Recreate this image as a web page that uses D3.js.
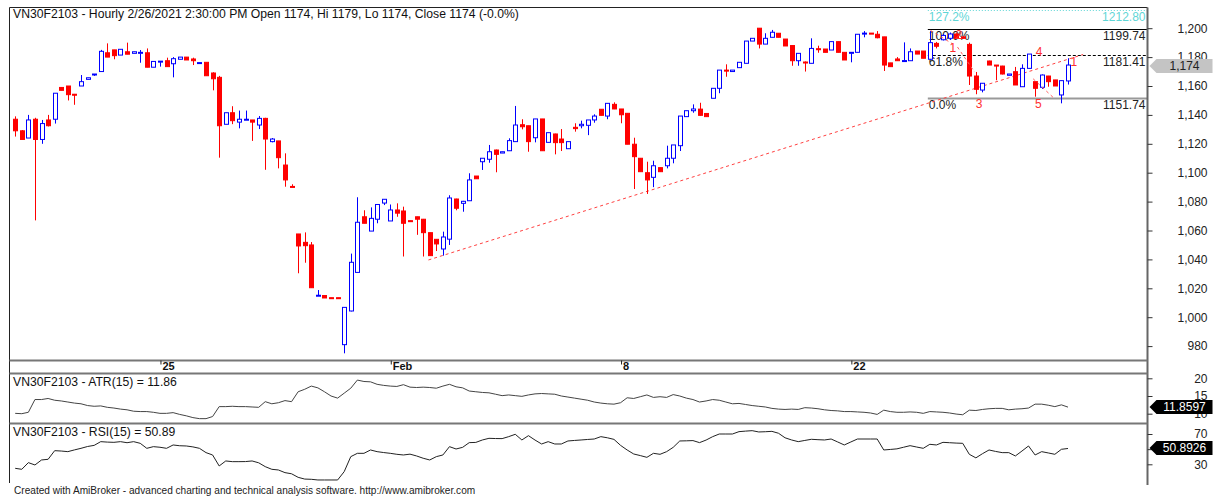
<!DOCTYPE html>
<html>
<head>
<meta charset="utf-8">
<script src="https://cdn.jsdelivr.net/npm/d3@7"></script>
<style>
  body { margin: 0; background: #fff; }
  svg { display: block; }
  text { font-family: "Liberation Sans", Arial, sans-serif; }
</style>
</head>
<body>
<div id="chart"></div>
<script>
// ---- data (hourly bars, 21 Jan .. 26 Feb 2021) ----
const dayTickBars = [22, 57, 92, 127];
const dayTickLabels = ["25", "Feb", "8", "22"];

const opens = [1137,1129,1124,1137,1123,1136.5,1137,1159,1160,1154.3,1160,1164.6,1168,1170,1183,1185,1181.4,1183.7,1182.6,1183,
  1183,1173,1177,1177.5,1175.4,1178.5,1180,1178.7,1176,1176.4,1169,1166,1133.5,1141.5,1135,1136.5,1136.5,1133,1137.6,1121.5,
  1122,1105.3,1090.5,1057.6,1051.8,1050,1014.9,1015,1013.5,1013.5,981,1004.3,1031,1069.5,1059.6,1067.8,1079,1066.6,1074.2,1073.5,
  1066.8,1069.5,1067.8,1058.5,1053.9,1047.2,1054,1081.8,1078.8,1080.6,1097.7,1107.6,1109.3,1115.7,1113.6,1115.2,1121.5,1133.2,1132.5,1124.2,
  1137.2,1121,1126.8,1123.3,1116.6,1131.4,1132.5,1132.8,1136.5,1143.9,1139.2,1147.3,1144.1,1141.1,1119.7,1110,1100,1096.8,1103.5,1104.8,
  1110,1118.7,1138.8,1142.9,1144,1141,1151.5,1158.4,1171,1170,1172.7,1175.7,1191.1,1200,1189,1193.7,1196.5,1192.5,1188,1177.5,
  1176.6,1175.7,1185.8,1185.6,1184.9,1190.7,1183.3,1183,1183.3,1196.3,1196.6,1195.8,1194,1176,1178.7,1177.4,1177.5,1184.2,1184.2,1178.5,
  1189.5,1192,1193,1196,1194,1188.8,1166.9,1157.2,1177.3,1174.5,1173.8,1167.4,1169.9,1159.5,1172.2,1163,1159.1,1166.9,1164.2,1153.8,
  1163.5];
const highs = [1139,1129.5,1140,1138,1136.5,1140,1155,1159,1160,1154.5,1167.6,1165.7,1168.3,1185,1189.5,1185,1185.4,1190,1183.7,1184.9,
  1186,1177,1177.2,1179.6,1180,1180,1180,1179.6,1176.2,1176.4,1169.5,1167,1141.5,1146,1143,1143,1136.5,1139.2,1138,1124,
  1122,1113.4,1092,1057.6,1058.7,1052,1018.8,1015,1013.5,1013.5,1006.8,1044,1083,1074,1076,1078,1081.6,1078,1078.8,1076.5,
  1066.8,1069.5,1068,1058.5,1054,1059.2,1084.4,1082,1080.5,1099.6,1097.7,1110,1119.2,1116,1114.5,1123.8,1146.2,1137,1132.5,1137.2,
  1137.2,1127.7,1127,1130.2,1121.5,1134.2,1136,1136.5,1140.4,1143.9,1148,1148.7,1144.1,1141.1,1124.2,1110,1107.6,1108.3,1103.5,1118.7,
  1119.2,1139.2,1142.9,1147.3,1148.4,1141,1158.4,1171,1175,1171,1176.4,1191.1,1193,1200,1196.5,1198.8,1196.5,1192.5,1188,1182.6,
  1177,1193,1187.9,1185.6,1190.7,1190.7,1183.3,1183.3,1195.8,1198,1196.6,1198,1194,1176,1180,1190.2,1186,1184.2,1184.2,1198,
  1190.5,1196,1197,1196.5,1194,1190,1169.7,1162,1177.5,1174.5,1174,1168.3,1173.2,1175,1182.1,1163,1168,1167,1164.2,1163.7,
  1179.2];
const lows = [1125,1123,1124,1067,1120,1132,1134,1157,1150,1147,1160,1164.6,1167,1170,1180,1178.5,1181.4,1182,1182.6,1176.1,
  1173,1173,1173.4,1173.4,1166,1178.5,1178,1174.5,1176,1167,1157,1110.4,1133.5,1133.6,1130.7,1136.5,1122,1130.2,1102,1121,
  1103,1090.3,1090,1030.4,1037.7,1020.4,1014.9,1013.3,1013.4,1013.4,975,1004,1031,1065,1059.6,1065,1077.6,1066.6,1069.5,1042,
  1066.5,1057,1042,1042.6,1045.8,1042.6,1050,1074,1073,1080.6,1095.8,1101.9,1106.9,1100.3,1113.6,1115,1121.5,1130,1114.5,1121,
  1115.2,1121,1112.7,1115,1116.6,1128.4,1130.7,1126,1134.6,1139.7,1137,1144,1134.2,1119.7,1088.7,1100.7,1085.3,1090,1100.7,1103,
  1106.5,1115,1138.8,1141.5,1139.5,1138.8,1151.5,1155,1166.4,1170,1172.7,1175.7,1191.1,1186,1189,1193.7,1193.7,1187.7,1174,1174,
  1170,1175.7,1183,1183.3,1184.9,1183.3,1178,1176.4,1183.3,1193.7,1196.3,1193,1170.4,1173.4,1177.5,1177.4,1177.5,1182.1,1179.2,1178.5,
  1186,1191.5,1192,1192.5,1193,1160.7,1154.3,1155.6,1174.5,1164,1168,1167.4,1160.7,1159.5,1172,1152.6,1158,1159.5,1160,1148,
  1161];
const closes = [1129,1123,1136.5,1123,1134,1132.5,1155,1157,1154,1154,1163,1165.7,1168.3,1184,1180,1181,1185.4,1182,1183.7,1183.3,
  1173,1177,1177.2,1173.4,1178.9,1180,1178,1177.5,1176.2,1167.1,1165,1132.5,1141.5,1136,1137,1137,1135,1137.6,1123.3,1123.3,
  1110.4,1095,1090,1049.3,1049.5,1020.4,1015.2,1013.3,1013.4,1013.4,1006.8,1038,1065.7,1065,1068.4,1078,1081.6,1074.2,1072,1065,
  1066.5,1067.8,1058.5,1042.6,1050.7,1055.5,1082.5,1075.4,1080.2,1095,1095.8,1110,1114.5,1112.7,1114.5,1122.2,1133,1131.8,1121.5,1137.2,
  1115.2,1127.7,1120.8,1120.8,1121.5,1130.5,1133.5,1136.5,1139.2,1139.7,1148,1144.1,1140.1,1119.7,1111.1,1100.7,1095,1104.8,1100.7,1110,
  1119.2,1139.2,1142.9,1144.1,1139.7,1138.8,1158.4,1171,1170.3,1171,1176.4,1191.1,1193,1189,1193,1197.2,1193.7,1187.7,1177.5,1182.6,
  1176.4,1186,1185.2,1183.3,1190.7,1183.3,1178,1183.3,1195.8,1196.6,1196.3,1193.4,1174.5,1173.4,1177.5,1177.6,1183.7,1182.1,1179.2,1190,
  1187.5,1195,1196,1193,1193,1166.9,1157.7,1161.9,1174.5,1173.8,1168.3,1168.3,1160.7,1172.2,1182.1,1158.4,1167.6,1163,1160,1163.7,
  1174.5];

const atrValues = [10.1,10.0,10.4,14.0,14.0,14.3,13.8,13.6,13.3,13.0,12.8,12.3,12.1,12.2,11.8,11.6,11.3,11.1,10.7,10.6,
  10.6,10.4,10.1,10.1,10.3,9.8,9.4,8.9,8.6,8.6,9.2,12.0,12.0,12.1,12.0,12.0,11.9,11.8,13.4,12.8,
  13.1,13.7,13.4,16.2,16.9,17.8,17.3,16.2,15.0,14.4,15.8,17.2,19.5,19.1,19.0,18.3,18.0,17.8,17.7,18.2,
  17.5,17.4,17.5,17.4,17.2,17.8,18.3,17.6,17.3,16.4,16.2,16.0,15.9,15.5,15.1,15.3,15.1,14.9,15.3,15.6,
  15.7,15.6,15.5,15.0,14.7,14.4,14.1,13.8,13.3,13.0,12.8,12.7,13.1,14.5,14.3,14.8,15.3,14.6,14.8,14.6,
  15.4,15.0,14.4,14.0,13.3,13.6,14.0,13.8,13.3,12.8,12.9,12.6,12.3,12.1,11.9,11.5,11.3,11.2,11.3,11.2,
  11.7,11.6,11.4,11.1,10.9,10.8,10.6,10.6,10.5,10.4,10.2,9.8,11.0,10.6,10.4,10.4,10.5,10.4,10.1,10.6,
  10.5,10.4,10.2,9.9,9.7,11.0,10.9,11.2,11.4,11.5,11.5,11.1,11.3,11.4,11.6,12.7,12.7,12.4,12.0,12.5,
  11.86];
const rsiValues = [24.7,23.4,32.2,29.1,35.7,36.6,48.0,47.5,46.7,49.0,51.1,53.5,55.0,59.9,59.3,59.0,59.9,58.5,59.9,57.7,
  51.1,53.3,52.5,51.1,55.5,54.5,54.2,53.0,51.1,45.4,42.3,27.8,34.4,33.5,33.5,33.6,34.4,32.0,26.9,23.4,
  22.5,19.0,17.5,12.8,10.5,10.2,9.3,9.3,9.3,9.3,20.3,40.1,44.5,44.5,48.9,46.7,45.5,44.5,43.2,42.3,
  43.4,41.0,38.0,35.7,40.1,42.3,53.3,50.2,52.4,58.6,58.9,62.1,64.3,64.0,63.9,66.5,69.6,62.1,67.8,62.0,
  56.8,59.9,56.8,56.8,60.8,61.5,62.1,62.8,63.4,66.5,65.0,62.9,55.0,48.9,43.6,41.5,39.2,44.5,43.2,46.7,
  52.4,60.8,61.0,61.3,58.6,62.0,66.5,70.0,70.0,70.0,73.1,73.8,74.4,72.7,73.0,73.5,71.0,65.0,62.1,59.9,
  61.5,63.0,62.5,62.1,63.4,59.5,55.5,59.5,63.4,63.4,63.4,63.4,48.9,49.6,50.4,52.5,54.6,52.8,51.1,56.4,
  55.5,59.0,58.5,58.0,57.7,43.2,38.5,44.0,48.9,47.0,45.4,45.4,41.0,47.5,54.2,42.3,46.7,45.0,43.2,49.8,
  50.89];

const priceTicks = [980, 1000, 1020, 1040, 1060, 1080, 1100, 1120, 1140, 1160, 1180, 1200];
const atrTicks = [10, 15, 20];
const rsiTicks = [30, 50, 70];
const rsiTickLabels = ["30", "", "70"];

const fibStartBar = 139;
const fibPercents = ["127.2%", "100.0%", "61.8%", "0.0%"];
const fibPrices = [1212.80, 1199.74, 1181.41, 1151.74];

const trendBars = [62.8, 162.3];
const trendPrices = [1039.6, 1181.8];

const waveText = ["1", "2", "3", "4", "5", "1"];
const waveBars = [142.5, 143.4, 146.5, 155.6, 155.5, 160.9];
const wavePrices = [1186.3, 1195.3, 1147.5, 1183.7, 1147.5, 1176.6];

const waveLegBars = [[139.1, 142.4], [143.2, 145.8], [154.7, 157.7]];
const waveLegPrices = [[1198.5, 1189.3], [1187.0, 1169.7], [1165.0, 1152.3]];

const titleText = "VN30F2103 - Hourly 2/26/2021 2:30:00 PM Open 1174, Hi 1179, Lo 1174, Close 1174 (-0.0%)";
const atrTitle = "VN30F2103 - ATR(15) = 11.86";
const rsiTitle = "VN30F2103 - RSI(15) = 50.89";
const lastClose = 1174;
const lastAtr = 11.8597;
const lastRsi = 50.8926;
const footerText = "Created with AmiBroker - advanced charting and technical analysis software. http://www.amibroker.com";

// ---- layout ----
const width = 1219, height = 498;
const left = 9.5, right = 1147.5;
const mainTop = 7.5, mainBottom = 360.5, dateBottom = 373.5, atrBottom = 423.5, rsiBottom = 483;

const svg = d3.select("#chart").append("svg")
  .attr("width", width)
  .attr("height", height);

const x = d3.scaleLinear().domain([0, 160]).range([15.2, 1068]);
const y = d3.scaleLinear().domain([980, 1200]).range([346.1, 28.2]);
const yAtr = d3.scaleLinear().domain([15, 20]).range([396, 378.3]);
const yRsi = d3.scaleLinear().domain([30, 70]).range([464.3, 434]);

svg.append("clipPath").attr("id", "mainClip")
  .append("rect").attr("x", left).attr("y", mainTop).attr("width", right - left).attr("height", mainBottom - mainTop);

const main = svg.append("g").attr("clip-path", "url(#mainClip)");

// fib levels
const fibColors = ["#5fd6d6", "#000", "#000", "#999"];
const fibDash = ["1,2", null, "3,2", null];
const fibWidth = [1, 1, 1, 2];
fibPrices.forEach(function (p, k) {
  let ly = Math.round(y(p)) + 0.5;
  main.append("line")
    .attr("x1", x(fibStartBar) - 2).attr("x2", right)
    .attr("y1", ly).attr("y2", ly)
    .attr("stroke", fibColors[k])
    .attr("stroke-width", fibWidth[k])
    .attr("stroke-dasharray", fibDash[k]);
  let col = k === 0 ? "#5fd6d6" : "#222";
  main.append("text")
    .attr("x", x(fibStartBar) - 1).attr("y", ly + 10)
    .attr("font-size", 12).attr("fill", col)
    .text(fibPercents[k]);
  main.append("text")
    .attr("x", right - 2).attr("y", ly + 10)
    .attr("text-anchor", "end")
    .attr("font-size", 12).attr("fill", col)
    .text(d3.format(".2f")(p));
});

// trend line
main.append("line")
  .attr("x1", x(trendBars[0])).attr("y1", y(trendPrices[0]))
  .attr("x2", x(trendBars[1])).attr("y2", y(trendPrices[1]))
  .attr("stroke", "#ff4040")
  .attr("stroke-dasharray", "3,3");

// candles
const bars = d3.range(opens.length);
const candle = main.selectAll("g.candle").data(bars).enter().append("g").attr("class", "candle");

candle.append("line")
  .attr("x1", function (i) { return Math.round(x(i)) + 0.5; })
  .attr("x2", function (i) { return Math.round(x(i)) + 0.5; })
  .attr("y1", function (i) { return y(highs[i]); })
  .attr("y2", function (i) { return y(lows[i]); })
  .attr("stroke", function (i) { return closes[i] >= opens[i] ? "#0000ff" : "#ff0000"; });

candle.append("rect")
  .attr("x", function (i) { return Math.round(x(i)) - 1.5; })
  .attr("width", 4)
  .attr("y", function (i) { return y(Math.max(opens[i], closes[i])); })
  .attr("height", function (i) { return Math.max(1, Math.abs(y(opens[i]) - y(closes[i]))); })
  .attr("fill", function (i) { return closes[i] >= opens[i] ? "#fff" : "#ff0000"; })
  .attr("stroke", function (i) { return closes[i] >= opens[i] ? "#0000ff" : "#ff0000"; })
  .attr("stroke-width", 1);

// elliott wave legs and labels
waveLegBars.forEach(function (b, k) {
  main.append("line")
    .attr("x1", x(b[0])).attr("y1", y(waveLegPrices[k][0]))
    .attr("x2", x(b[1])).attr("y2", y(waveLegPrices[k][1]))
    .attr("stroke", "#ff6060")
    .attr("stroke-dasharray", "3,3");
});
waveText.forEach(function (t, k) {
  main.append("text")
    .attr("x", x(waveBars[k])).attr("y", y(wavePrices[k]) + 4)
    .attr("text-anchor", "middle")
    .attr("font-size", 12).attr("fill", "#ff3030")
    .text(t);
});

// indicator lines
const atrLine = d3.line().x(function (d, i) { return x(i); }).y(function (d) { return yAtr(d); });
svg.append("path").datum(atrValues)
  .attr("fill", "none").attr("stroke", "#444").attr("stroke-width", 1)
  .attr("d", atrLine);

const rsiLine = d3.line().x(function (d, i) { return x(i); }).y(function (d) { return yRsi(d); });
svg.append("path").datum(rsiValues)
  .attr("fill", "none").attr("stroke", "#222").attr("stroke-width", 1)
  .attr("d", rsiLine);

// pane frames
svg.append("line").attr("x1", left).attr("x2", right).attr("y1", mainTop).attr("y2", mainTop).attr("stroke", "#222");
svg.append("line").attr("x1", left).attr("x2", left).attr("y1", mainTop).attr("y2", rsiBottom).attr("stroke", "#222");
svg.append("line").attr("x1", right).attr("x2", right).attr("y1", mainTop).attr("y2", rsiBottom + 2).attr("stroke", "#666").attr("stroke-width", 2);
[mainBottom, dateBottom, atrBottom].forEach(function (yy) {
  svg.append("line").attr("x1", left).attr("x2", right).attr("y1", yy).attr("y2", yy)
    .attr("stroke", "#777").attr("stroke-width", 2);
});

// right price axis
function styleAxis(g) {
  g.select(".domain").remove();
  g.selectAll(".tick line").attr("stroke", "#333");
  g.selectAll(".tick text")
    .attr("x", 60).attr("text-anchor", "end")
    .attr("fill", "#222")
    .attr("font-size", 12)
    .attr("font-family", "\"Liberation Sans\", Arial, sans-serif");
}

svg.append("g")
  .attr("transform", "translate(" + right + ",0)")
  .call(d3.axisRight(y).tickValues(priceTicks).tickSize(5).tickSizeOuter(0).tickFormat(d3.format(",")))
  .call(styleAxis);

svg.append("g")
  .attr("transform", "translate(" + right + ",0)")
  .call(d3.axisRight(yAtr).tickValues(atrTicks).tickSize(5).tickSizeOuter(0).tickFormat(d3.format("d")))
  .call(styleAxis);

svg.append("g")
  .attr("transform", "translate(" + right + ",0)")
  .call(d3.axisRight(yRsi).tickValues(rsiTicks).tickSize(5).tickSizeOuter(0)
    .tickFormat(function (d, i) { return rsiTickLabels[i]; }))
  .call(styleAxis);

// date axis
const dateAxis = svg.append("g")
  .attr("transform", "translate(0," + mainBottom + ")")
  .call(d3.axisBottom(x).tickValues(dayTickBars).tickSize(4).tickSizeOuter(0)
    .tickFormat(function (d, i) { return dayTickLabels[i]; }));
dateAxis.select(".domain").remove();
dateAxis.selectAll(".tick line").attr("stroke", "#222").attr("transform", "translate(0.5,0)");
dateAxis.selectAll(".tick text")
  .attr("x", 2).attr("y", 2).attr("dy", "0.71em")
  .attr("text-anchor", "start")
  .attr("fill", "#111")
  .attr("font-weight", "bold")
  .attr("font-size", 11)
  .attr("font-family", "\"Liberation Sans\", Arial, sans-serif");

// value tags on the right
function tag(yy, label, fill, textFill) {
  let yc = Math.round(yy);
  svg.append("path")
    .attr("d", "M" + (right + 2) + "," + yc + " L" + (right + 9) + "," + (yc - 7) + " L" + (right + 65) + "," + (yc - 7) +
      " L" + (right + 65) + "," + (yc + 7) + " L" + (right + 9) + "," + (yc + 7) + " Z")
    .attr("fill", fill);
  svg.append("text")
    .attr("x", right + 37).attr("y", yc + 4)
    .attr("text-anchor", "middle")
    .attr("font-size", 12).attr("fill", textFill)
    .text(label);
}
tag(y(lastClose), d3.format(",")(lastClose), "#c4c4c4", "#222");
tag(yAtr(lastAtr), lastAtr.toFixed(4), "#000", "#fff");
tag(yRsi(lastRsi), lastRsi.toFixed(4), "#000", "#fff");

// titles
svg.append("text").attr("x", 13).attr("y", 18).attr("font-size", 12.2).attr("fill", "#111").text(titleText);
svg.append("text").attr("x", 13).attr("y", 386).attr("font-size", 12.2).attr("fill", "#111").text(atrTitle);
svg.append("text").attr("x", 13).attr("y", 436).attr("font-size", 12.2).attr("fill", "#111").text(rsiTitle);
svg.append("text").attr("x", 14).attr("y", 494).attr("font-size", 10.1).attr("fill", "#222").text(footerText);
</script>
</body>
</html>
